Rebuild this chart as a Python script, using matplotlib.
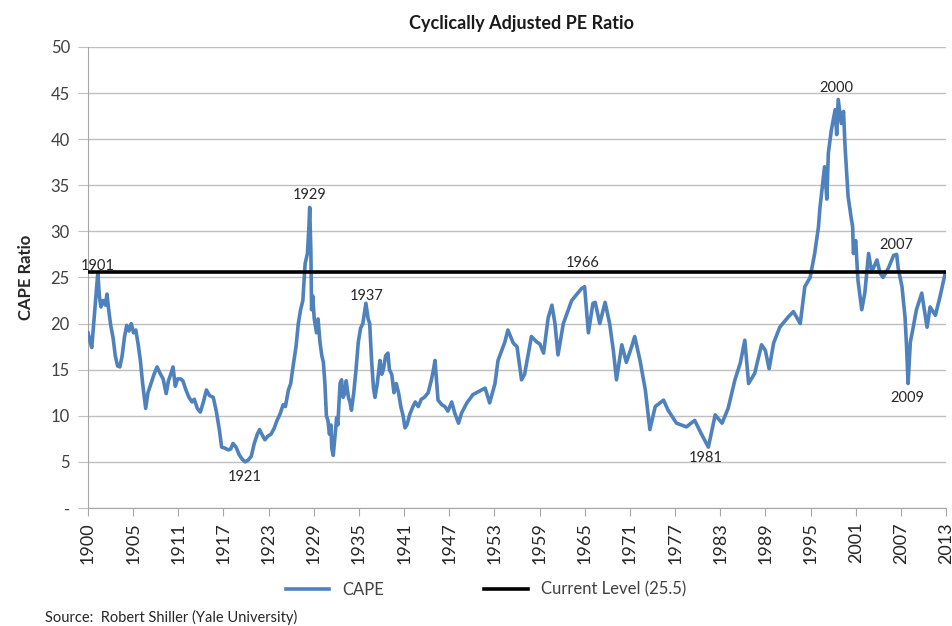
import numpy as np
import matplotlib
matplotlib.use("Agg")
import matplotlib.pyplot as plt

plt.rcParams['font.family'] = ['Lato', 'DejaVu Sans']

# CAPE series (decimal year, ratio)
years = [
    1900.0, 1900.3, 1900.5, 1900.8, 1901.1, 1901.3, 1901.5, 1901.7, 1902.0, 1902.3,
    1902.5, 1902.8, 1903.0, 1903.3, 1903.6, 1903.9, 1904.2, 1904.5, 1904.8, 1905.1,
    1905.4, 1905.7, 1906.0, 1906.3, 1906.6, 1906.9, 1907.2, 1907.6, 1907.9, 1908.3,
    1908.7, 1909.1, 1909.5, 1909.9, 1910.3, 1910.6, 1910.9, 1911.2, 1911.5, 1911.8,
    1912.2, 1912.5, 1912.9, 1913.3, 1913.7, 1914.0, 1914.4, 1914.8, 1915.2, 1915.6,
    1916.0, 1916.5, 1916.9, 1917.3, 1917.6, 1918.0, 1918.5, 1918.8, 1919.1, 1919.5,
    1919.9, 1920.3, 1920.7, 1921.1, 1921.5, 1921.9, 1922.3, 1922.6, 1922.9, 1923.3,
    1923.7, 1924.1, 1924.5, 1924.9, 1925.3, 1925.7, 1926.0, 1926.4, 1926.7, 1927.0,
    1927.4, 1927.7, 1928.0, 1928.3, 1928.6, 1928.9, 1929.1, 1929.2, 1929.35, 1929.45,
    1929.6, 1929.8, 1930.1, 1930.3, 1930.55, 1930.8, 1931.0, 1931.2, 1931.4, 1931.6,
    1931.8, 1932.0, 1932.1, 1932.3, 1932.5, 1932.75, 1932.9, 1933.2, 1933.4, 1933.6,
    1933.85, 1934.0, 1934.3, 1934.5, 1934.7, 1935.0, 1935.3, 1935.6, 1935.9, 1936.2,
    1936.6, 1936.9, 1937.1, 1937.35, 1937.6, 1937.8, 1938.1, 1938.45, 1938.7, 1938.9,
    1939.2, 1939.5, 1939.7, 1940.0, 1940.3, 1940.6, 1940.9, 1941.2, 1941.5, 1941.75,
    1942.0, 1942.4, 1942.8, 1943.1, 1943.5, 1943.9, 1944.3, 1944.8, 1945.2, 1945.5,
    1945.7, 1946.1, 1946.6, 1947.0, 1947.4, 1947.9, 1948.3, 1948.8, 1949.2, 1949.9,
    1950.7, 1951.6, 1952.3, 1952.9, 1953.6, 1954.0, 1954.9, 1955.3, 1956.0, 1956.5,
    1957.1, 1957.5, 1958.4, 1959.1, 1959.5, 1960.0, 1960.6, 1961.1, 1961.5, 1961.9,
    1962.6, 1963.7, 1965.0, 1965.4, 1965.9, 1966.5, 1966.8, 1967.4, 1968.1, 1968.7,
    1969.2, 1969.6, 1970.3, 1970.9, 1971.6, 1972.0, 1972.7, 1973.4, 1974.0, 1974.7,
    1975.8, 1976.4, 1977.5, 1978.8, 1979.9, 1980.8, 1981.7, 1982.6, 1983.5, 1984.3,
    1985.2, 1985.9, 1986.5, 1987.0, 1987.8, 1988.7, 1989.2, 1989.7, 1990.3, 1991.1,
    1992.2, 1992.9, 1993.8, 1994.4, 1995.1, 1995.7, 1996.2, 1996.4, 1996.8, 1997.0,
    1997.3, 1997.5, 1997.9, 1998.4, 1998.6, 1998.8, 1999.2, 1999.5, 1999.7, 2000.1,
    2000.5, 2000.7, 2000.8, 2001.1, 2001.4, 2001.9, 2002.3, 2002.8, 2003.2, 2003.9,
    2004.3, 2004.7, 2005.4, 2006.1, 2006.5, 2006.7, 2007.2, 2007.6, 2007.8, 2008.0,
    2008.3, 2008.7, 2009.1, 2009.8, 2010.5, 2010.9, 2011.6, 2012.2, 2012.9,
]
cape = [
    19.0, 18.0, 17.4, 20.5, 23.5, 25.5, 23.0, 21.8, 22.5, 22.0,
    23.2, 21.0, 19.8, 18.5, 16.5, 15.4, 15.3, 16.5, 18.5, 19.8,
    19.2, 20.0, 19.0, 19.3, 17.8, 16.0, 13.5, 10.8, 12.5, 13.5,
    14.5, 15.3, 14.6, 14.0, 12.4, 13.8, 14.5, 15.3, 13.2, 14.0,
    14.0, 13.8, 12.8, 12.0, 11.5, 11.8, 10.8, 10.4, 11.5, 12.8,
    12.2, 12.0, 10.5, 8.5, 6.6, 6.5, 6.3, 6.4, 7.0, 6.6,
    5.8, 5.3, 5.0, 5.2, 5.6, 7.0, 8.0, 8.5, 8.0, 7.4,
    7.8, 8.0, 8.6, 9.5, 10.2, 11.2, 11.0, 12.8, 13.5, 15.3,
    17.5, 20.0, 21.5, 22.5, 26.5, 27.6, 30.5, 32.6, 28.0, 21.5,
    23.0, 20.5, 19.0, 20.5, 18.0, 16.5, 15.8, 13.5, 10.0, 9.5,
    8.0, 9.0, 6.5, 5.7, 7.5, 9.8, 9.0, 13.5, 13.9, 12.0,
    12.5, 13.8, 12.0, 11.5, 10.6, 12.5, 15.0, 18.0, 19.5, 20.0,
    22.2, 20.5, 20.0, 16.0, 13.0, 12.0, 13.5, 16.0, 14.5, 15.0,
    16.5, 16.8, 15.0, 14.5, 12.5, 13.5, 12.5, 11.0, 10.0, 8.7,
    9.0, 10.2, 11.0, 11.5, 11.0, 11.8, 12.0, 12.5, 13.8, 15.0,
    16.0, 11.7, 11.2, 11.0, 10.5, 11.5, 10.3, 9.2, 10.3, 11.4,
    12.3, 12.7, 13.0, 11.4, 13.5, 16.0, 18.0, 19.3, 17.9, 17.5,
    13.9, 14.5, 18.6, 18.0, 17.8, 16.8, 20.6, 22.0, 20.0, 16.6,
    20.0, 22.5, 23.8, 24.0, 19.0, 22.2, 22.3, 20.0, 22.3, 20.0,
    17.0, 13.9, 17.7, 15.8, 17.5, 18.6, 16.0, 12.8, 8.5, 11.0,
    11.7, 10.6, 9.2, 8.8, 9.5, 8.0, 6.6, 10.1, 9.2, 10.8,
    13.9, 15.7, 18.2, 13.5, 14.6, 17.7, 17.1, 15.1, 17.9, 19.6,
    20.7, 21.3, 20.0, 24.0, 25.0, 27.6, 30.5, 32.6, 35.5, 37.0,
    33.5, 38.5, 41.0, 43.2, 40.5, 44.3, 41.7, 43.0, 39.2, 33.8,
    31.5, 30.5, 27.6, 29.0, 24.7, 21.5, 23.3, 27.6, 25.6, 26.9,
    25.5, 25.0, 26.0, 27.4, 27.5, 26.0, 24.0, 20.7, 17.5, 13.5,
    18.0, 19.7, 21.5, 23.3, 19.6, 21.8, 20.9, 22.9, 25.5,
]
current_level = 25.6

tick_years = [1900, 1905, 1911, 1917, 1923, 1929, 1935, 1941, 1947, 1953,
              1959, 1965, 1971, 1977, 1983, 1989, 1995, 2001, 2007, 2013]

# labelled turning points: text, x, y
note_text = ['1901', '1929', '1937', '1966', '2000', '2007', '1921', '1981', '2009']
note_x = [1901.3, 1929.2, 1936.7, 1965.1, 1998.5, 2006.4, 1920.7, 1981.3, 2007.9]
note_y = [26.2, 33.9, 23.0, 26.6, 45.6, 28.5, 3.4, 5.4, 11.9]

fig = plt.figure(figsize=(9.53, 6.26), dpi=100)
ax = fig.add_axes([0.0923, 0.1885, 0.9004, 0.7365])

ax.plot(years, cape, color='#4F81BD', linewidth=2.6, label='CAPE', zorder=3)
ax.axhline(current_level, color='black', linewidth=2.6, label='Current Level (25.5)', zorder=4)

for t, x, y in zip(note_text, note_x, note_y):
    ax.text(x, y, t, ha='center', va='center', fontsize=10.5, color='#262626', zorder=5)

ax.set_xlim(1900, 2013)
ax.set_ylim(0, 50)
ax.set_xticks(np.linspace(1900, 2013, len(tick_years)))
ax.set_xticklabels([str(y) for y in tick_years], rotation=90, fontsize=13, color='#262626')
ax.set_yticks(np.arange(0, 51, 5))
ax.set_yticklabels(['-'] + [str(v) for v in range(5, 51, 5)], fontsize=12, color='#404040')

ax.grid(axis='y', color='#BFBFBF', linewidth=1)
ax.set_axisbelow(True)
for s in ['top', 'right']:
    ax.spines[s].set_visible(False)
for s in ['left', 'bottom']:
    ax.spines[s].set_color('#A6A6A6')
ax.tick_params(axis='x', length=6, color='#A6A6A6', pad=4)
ax.tick_params(axis='y', length=7, color='#BFBFBF', pad=6)

ax.set_ylabel('CAPE Ratio', fontsize=12, fontweight='bold', color='#262626', labelpad=12)
fig.text(0.547, 0.963, 'Cyclically Adjusted PE Ratio', ha='center', va='center',
         fontsize=13, fontweight='bold', color='#1a1a1a')

fig.legend(loc='center', bbox_to_anchor=(0.51, 0.058), ncol=2, frameon=False,
           fontsize=12, handlelength=2.6, columnspacing=6, labelcolor='#404040')
fig.text(0.047, 0.013, 'Source:  Robert Shiller (Yale University)', fontsize=10.5,
         color='#262626', va='center')

fig.savefig('out.png', dpi=100)
